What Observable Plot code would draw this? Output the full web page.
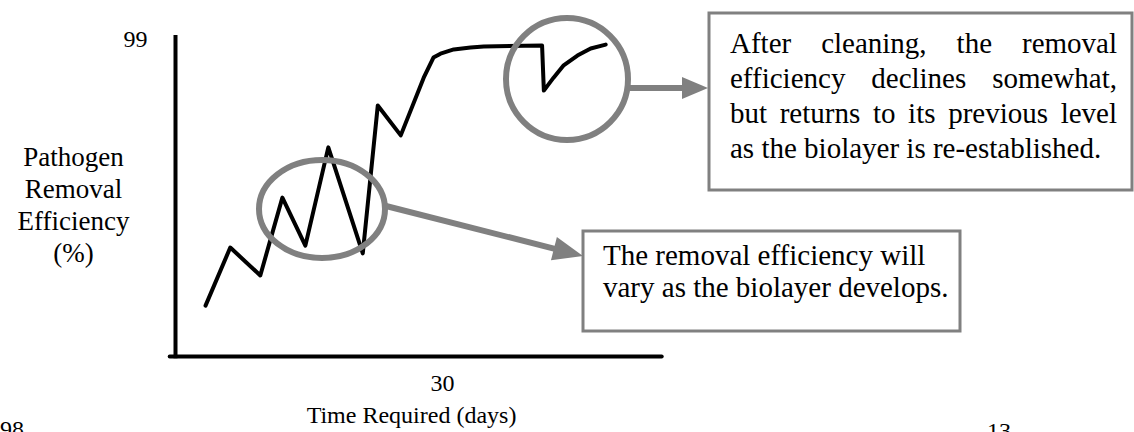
<!DOCTYPE html>
<html>
<head>
<meta charset="utf-8">
<script src="https://cdn.jsdelivr.net/npm/d3@7"></script>
<script src="https://cdn.jsdelivr.net/npm/@observablehq/plot@0.6"></script>
<style>
  html, body { margin: 0; padding: 0; background: #fff; overflow: hidden; }
  svg { display: block; }
</style>
</head>
<body>
<div id="chart"></div>
<script>
// ---- data ----
const days = [3.4, 6.2, 9.6, 12.1, 14.7, 17.3, 21.2, 22.9, 25.5, 28.1, 29.2, 30.0, 31.5, 33.4, 34.9, 41.5, 41.7, 42.8, 43.9, 45.5, 47.0, 48.7];
const efficiency = [15.7, 33.6, 25.0, 49.0, 34.2, 64.5, 31.8, 77.4, 68.2, 86.0, 92.2, 93.4, 94.7, 95.3, 95.6, 95.9, 82.0, 86.0, 89.7, 92.8, 95.0, 96.2];
const xTickValues = [30];
const xTickLabels = ["30"];
const yTickValues = [99];
const yTickLabels = ["99"];
const xAxisEnd = 55.1;
const xLabel = "Time Required (days)";
const yLabelLines = ["Pathogen", "Removal", "Efficiency", "(%)"];
const note1Lines = ["After cleaning, the removal", "efficiency declines somewhat,", "but returns to its previous level", "as the biolayer is re-established."];
const note2Lines = ["The removal efficiency will", "vary as the biolayer develops."];
const pageNumbers = ["98", "13"];

const series = days.map((d, i) => ({day: d, eff: efficiency[i]}));

const FONT = '"Liberation Serif", "Times New Roman", serif';
const GRAY = "#808080";
const NOTE_FS = 29;

const canvas = document.createElement("canvas");
const ctx = canvas.getContext("2d");
ctx.font = `${NOTE_FS}px "Liberation Serif"`;
const measure = (s) => ctx.measureText(s).width;

function annotations() {
  return () => {
    const g = d3.create("svg:g")
      .attr("font-family", FONT)
      .attr("font-size", NOTE_FS)
      .attr("text-anchor", "start")
      .attr("fill", "#000");

    // ellipse around the variable region
    g.append("ellipse").attr("cx", 322).attr("cy", 209).attr("rx", 63).attr("ry", 49)
      .attr("fill", "none").attr("stroke", GRAY).attr("stroke-width", 6);
    // circle around the cleaning dip
    g.append("circle").attr("cx", 567).attr("cy", 79).attr("r", 61)
      .attr("fill", "none").attr("stroke", GRAY).attr("stroke-width", 6);

    function arrow(x1, y1, x2, y2, hl, hw) {
      const a = Math.atan2(y2 - y1, x2 - x1);
      const bx = x2 - hl * Math.cos(a), by = y2 - hl * Math.sin(a);
      g.append("line").attr("x1", x1).attr("y1", y1).attr("x2", bx + Math.cos(a)).attr("y2", by + Math.sin(a))
        .attr("stroke", GRAY).attr("stroke-width", 6);
      const px = -Math.sin(a) * hw, py = Math.cos(a) * hw;
      g.append("path").attr("d", `M${x2},${y2}L${bx + px},${by + py}L${bx - px},${by - py}Z`).attr("fill", GRAY);
    }
    arrow(630, 88, 708, 88, 26, 11);
    arrow(386, 206, 583, 256, 30, 12);

    // box 1 (justified text)
    g.append("rect").attr("x", 709).attr("y", 13).attr("width", 423).attr("height", 177)
      .attr("fill", "#fff").attr("stroke", GRAY).attr("stroke-width", 3);
    const L = 730, R = 1117;
    note1Lines.forEach((line, i) => {
      const y = 53 + i * 35;
      const words = line.split(" ");
      const widths = words.map(measure);
      const total = d3.sum(widths);
      const last = i === note1Lines.length - 1;
      const gap = last ? measure(" ") : (R - L - total) / (words.length - 1);
      let x = L;
      words.forEach((w, j) => {
        g.append("text").attr("x", x).attr("y", y).text(w);
        x += widths[j] + gap;
      });
    });

    // box 2
    g.append("rect").attr("x", 583).attr("y", 231).attr("width", 377).attr("height", 100)
      .attr("fill", "#fff").attr("stroke", GRAY).attr("stroke-width", 3);
    note2Lines.forEach((line, i) => {
      g.append("text").attr("x", 603).attr("y", 265 + i * 32).text(line);
    });

    // cut-off page numbers at the bottom
    g.append("text").attr("x", 0).attr("y", 437).attr("font-size", 24).text(pageNumbers[0]);
    g.append("text").attr("x", 987).attr("y", 439).attr("font-size", 24).text(pageNumbers[1]);
    return g.node();
  };
}

const chart = Plot.plot({
  width: 1134,
  height: 432,
  marginTop: 0, marginRight: 0, marginBottom: 0, marginLeft: 0,
  x: {type: "linear", domain: [0, 30], range: [175, 440], axis: null},
  y: {type: "linear", domain: [0, 99], range: [356, 35], axis: null},
  style: {fontFamily: FONT, fontSize: "24px", background: "#fff", overflow: "visible"},
  marks: [
    Plot.ruleX([0], {y1: -0.7, y2: 99, stroke: "#000", strokeWidth: 4}),
    Plot.ruleY([0], {x1: -0.6, x2: xAxisEnd, stroke: "#000", strokeWidth: 4, strokeLinecap: "round"}),
    Plot.line(series, {x: "day", y: "eff", stroke: "#000", strokeWidth: 4, strokeLinejoin: "round", strokeLinecap: "round"}),
    Plot.text(yTickValues, {x: 0, y: d => d, text: (d, i) => yTickLabels[i], dx: -40, dy: 11, fill: "#000", fontSize: 24, textAnchor: "middle", lineAnchor: "bottom"}),
    Plot.text(xTickValues, {x: d => d, y: 0, text: (d, i) => xTickLabels[i], dx: 2, dy: 34, fill: "#000", fontSize: 24, textAnchor: "middle", lineAnchor: "bottom"}),
    Plot.text([xLabel], {x: 30, y: 0, text: d => d, dx: -29, dy: 66, fill: "#000", fontSize: 24, textAnchor: "middle", lineAnchor: "bottom"}),
    Plot.text([yLabelLines.join("\n")], {x: 0, y: 0, text: d => d, dx: -102, dy: -95, fill: "#000", fontSize: 27, textAnchor: "middle", lineAnchor: "bottom", lineHeight: 32 / 27}),
    annotations()
  ]
});
document.getElementById("chart").appendChild(chart);
</script>
</body>
</html>
